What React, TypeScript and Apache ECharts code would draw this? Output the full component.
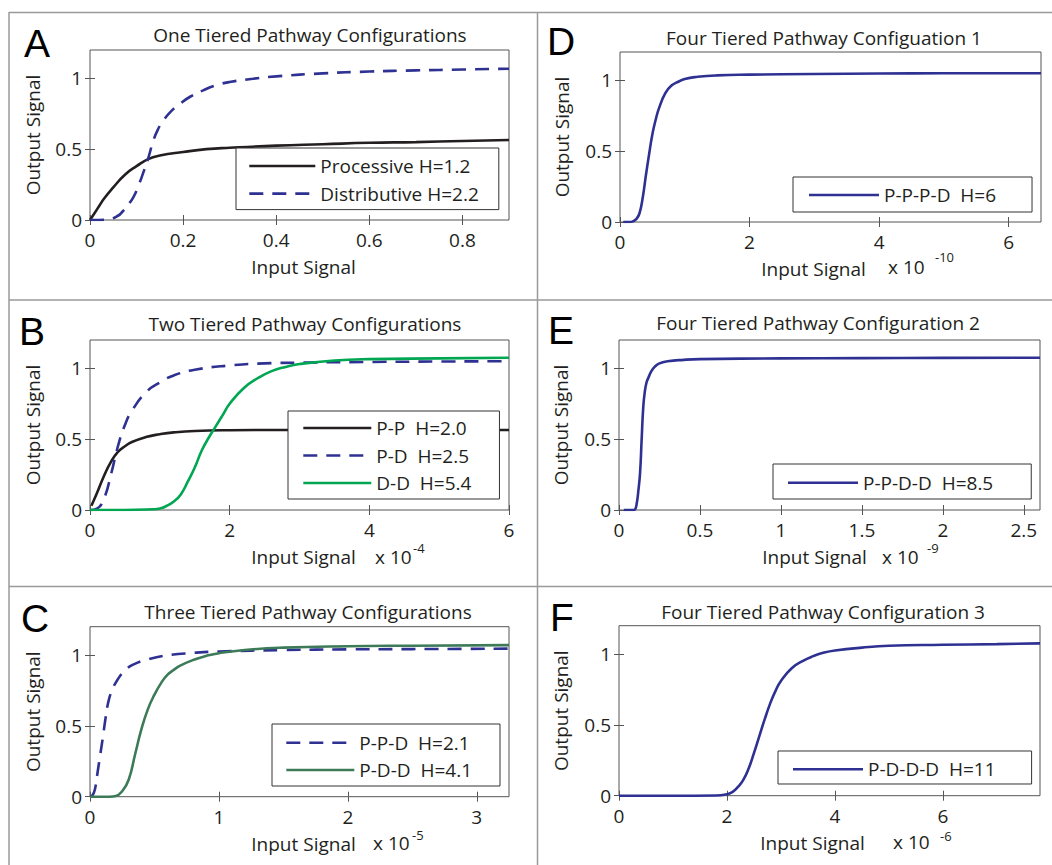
import React, { useEffect, useRef } from "react";
import * as echarts from "echarts";

// ---------------- data ----------------
// A: One tiered
const aProcX = [0, 0.01, 0.02, 0.03, 0.05, 0.075, 0.1, 0.125, 0.15, 0.2, 0.25, 0.3, 0.4, 0.5, 0.6, 0.7, 0.8, 0.9];
const aProcY = [0, 0.05, 0.1, 0.15, 0.23, 0.32, 0.38, 0.43, 0.455, 0.48, 0.5, 0.51, 0.525, 0.535, 0.545, 0.55, 0.558, 0.565];
const aDistX = [0, 0.02, 0.04, 0.06, 0.07, 0.08, 0.093, 0.105, 0.115, 0.125, 0.136, 0.146, 0.157, 0.175, 0.193, 0.215, 0.243, 0.27, 0.3, 0.35, 0.4, 0.5, 0.6, 0.7, 0.8, 0.9];
const aDistY = [0, 0, 0.005, 0.03, 0.06, 0.1, 0.16, 0.25, 0.34, 0.435, 0.56, 0.64, 0.7, 0.77, 0.82, 0.87, 0.915, 0.95, 0.974, 0.997, 1.014, 1.035, 1.048, 1.056, 1.062, 1.068];
// B: Two tiered (x 10^-4)
const bPPX = [0.02, 0.1, 0.2, 0.3, 0.4, 0.5, 0.6, 0.8, 1.0, 1.2, 1.5, 2, 3, 4, 5, 6];
const bPPY = [0.03, 0.12, 0.24, 0.34, 0.41, 0.45, 0.48, 0.515, 0.535, 0.548, 0.558, 0.563, 0.565, 0.565, 0.565, 0.565];
const bPDX = [0, 0.1, 0.2, 0.3, 0.4, 0.5, 0.6, 0.8, 1.0, 1.2, 1.5, 2, 2.5, 3, 4, 5, 6];
const bPDY = [0, 0.01, 0.08, 0.25, 0.45, 0.6, 0.7, 0.83, 0.9, 0.95, 0.99, 1.02, 1.035, 1.04, 1.045, 1.048, 1.05];
const bDDX = [0, 0.5, 0.9, 1.0, 1.1, 1.2, 1.3, 1.4, 1.5, 1.6, 1.7, 1.8, 1.9, 2.0, 2.2, 2.4, 2.6, 2.8, 3.0, 3.5, 4, 5, 6];
const bDDY = [0, 0, 0.005, 0.01, 0.03, 0.06, 0.11, 0.2, 0.3, 0.42, 0.51, 0.59, 0.67, 0.75, 0.86, 0.93, 0.98, 1.01, 1.03, 1.055, 1.065, 1.07, 1.075];
// C: Three tiered (x 10^-5)
const cPPDX = [0, 0.02, 0.04, 0.06, 0.08, 0.1, 0.12, 0.14, 0.17, 0.21, 0.26, 0.33, 0.45, 0.6, 0.8, 1.0, 1.5, 2, 2.5, 3.25];
const cPPDY = [0, 0.01, 0.06, 0.18, 0.3, 0.42, 0.55, 0.66, 0.75, 0.82, 0.88, 0.93, 0.97, 0.998, 1.015, 1.025, 1.035, 1.04, 1.042, 1.045];
const cPDDX = [0, 0.15, 0.2, 0.25, 0.3, 0.35, 0.4, 0.45, 0.5, 0.55, 0.6, 0.65, 0.7, 0.8, 0.9, 1.0, 1.2, 1.5, 2, 2.5, 3.25];
const cPDDY = [0, 0, 0.005, 0.04, 0.12, 0.3, 0.48, 0.62, 0.72, 0.8, 0.86, 0.895, 0.925, 0.965, 0.993, 1.013, 1.036, 1.052, 1.062, 1.066, 1.07];
// D: Four tiered config 1 (x 10^-10)
const dX = [0.05, 0.15, 0.2, 0.25, 0.3, 0.35, 0.4, 0.45, 0.5, 0.55, 0.6, 0.7, 0.8, 0.9, 1.0, 1.2, 1.5, 2, 3, 4, 5, 6.5];
const dY = [0, 0, 0.005, 0.02, 0.06, 0.17, 0.33, 0.48, 0.62, 0.72, 0.8, 0.91, 0.965, 0.99, 1.01, 1.025, 1.035, 1.04, 1.045, 1.048, 1.05, 1.05];
// E: Four tiered config 2 (x 10^-9)
const eX = [0.03, 0.09, 0.1, 0.11, 0.12, 0.13, 0.14, 0.15, 0.16, 0.17, 0.18, 0.2, 0.22, 0.25, 0.3, 0.4, 0.5, 1, 1.5, 2, 2.6];
const eY = [0, 0, 0.005, 0.05, 0.14, 0.26, 0.5, 0.73, 0.84, 0.9, 0.93, 0.98, 1.01, 1.035, 1.05, 1.06, 1.065, 1.07, 1.072, 1.074, 1.075];
// F: Four tiered config 3 (x 10^-6)
const fX = [0, 1, 1.8, 2.0, 2.1, 2.2, 2.3, 2.4, 2.5, 2.6, 2.7, 2.8, 2.9, 3.0, 3.2, 3.4, 3.6, 3.8, 4.0, 4.5, 5, 6, 7, 7.8];
const fY = [0, 0, 0.001, 0.01, 0.025, 0.06, 0.11, 0.19, 0.3, 0.42, 0.54, 0.65, 0.74, 0.81, 0.9, 0.95, 0.985, 1.01, 1.025, 1.045, 1.058, 1.065, 1.07, 1.075];

// tick values
const aTicks = [0, 0.2, 0.4, 0.6, 0.8];
const bTicks = [0, 2, 4, 6];
const cTicks = [0, 1, 2, 3];
const dTicks = [0, 2, 4, 6];
const eTicks = [0, 0.5, 1, 1.5, 2, 2.5];
const fTicks = [0, 2, 4, 6];
const yTicks = [0, 0.5, 1];

const BLACK = "#231f20";
const BLUE = "#2e3192";
const GREEN = "#00a651";
const DKGREEN = "#3d7b58";
const FONT = "'Open Sans', sans-serif";
const AXIS = "#555555";

const zip = (xs: number[], ys: number[]) => xs.map((x, i) => [x, ys[i]]);

type S = { name: string; x: number[]; y: number[]; color: string; dashed?: boolean };
type P = {
  grid: { left: number; top: number; width: number; height: number };
  xMax: number;
  xTicks: number[];
  title: string;
  titleX: number;
  titleY: number;
  letter: string;
  letterX: number;
  letterY: number;
  legend: { left: number; top: number; padding: number[]; itemWidth: number; gap: number };
  series: S[];
  namePad: number[];
  exp?: { x: number; y: number; sx: number; sy: number; sup: string };
};

const panels: P[] = [
  {
    grid: { left: 90, top: 50, width: 419, height: 170 },
    xMax: 0.9, xTicks: aTicks,
    title: "One Tiered Pathway Configurations", titleX: 310, titleY: 35,
    letter: "A", letterX: 24, letterY: 43,
    legend: { left: 236, top: 148, padding: [7, 20, 5, 12], itemWidth: 66, gap: 5.6 },
    series: [
      { name: "Processive H=1.2", x: aProcX, y: aProcY, color: BLACK },
      { name: "Distributive H=2.2", x: aDistX, y: aDistY, color: BLUE, dashed: true },
    ],
    namePad: [0, 0, 0, 8],
  },
  {
    grid: { left: 90, top: 340, width: 419, height: 170 },
    xMax: 6, xTicks: bTicks,
    title: "Two Tiered Pathway Configurations", titleX: 305, titleY: 324,
    letter: "B", letterX: 19, letterY: 331,
    legend: { left: 288, top: 411, padding: [6, 28, 5, 14], itemWidth: 68, gap: 5.5 },
    series: [
      { name: "P-P  H=2.0", x: bPPX, y: bPPY, color: BLACK },
      { name: "P-D  H=2.5", x: bPDX, y: bPDY, color: BLUE, dashed: true },
      { name: "D-D  H=5.4", x: bDDX, y: bDDY, color: GREEN },
    ],
    namePad: [0, 0, 0, 8],
    exp: { x: 375, y: 557, sx: 413, sy: 548, sup: "-4" },
  },
  {
    grid: { left: 90, top: 626.7, width: 419, height: 170 },
    xMax: 3.25, xTicks: cTicks,
    title: "Three Tiered Pathway Configurations", titleX: 308, titleY: 612,
    letter: "C", letterX: 21, letterY: 618,
    legend: { left: 272, top: 724, padding: [7.7, 28, 5, 13], itemWidth: 68, gap: 5.3 },
    series: [
      { name: "P-P-D  H=2.1", x: cPPDX, y: cPPDY, color: BLUE, dashed: true },
      { name: "P-D-D  H=4.1", x: cPDDX, y: cPDDY, color: DKGREEN },
    ],
    namePad: [0, 0, 0, 8],
    exp: { x: 373, y: 843, sx: 412, sy: 835, sup: "-5" },
  },
  {
    grid: { left: 620, top: 52, width: 421, height: 170 },
    xMax: 6.5, xTicks: dTicks,
    title: "Four Tiered Pathway Configuation 1", titleX: 824, titleY: 38,
    letter: "D", letterX: 547, letterY: 41,
    legend: { left: 793, top: 177, padding: [7, 36, 6, 14.7], itemWidth: 70, gap: 5 },
    series: [{ name: "P-P-P-D  H=6", x: dX, y: dY, color: BLUE }],
    namePad: [0, 34, 0, 0],
    exp: { x: 888, y: 267, sx: 935, sy: 257, sup: "-10" },
  },
  {
    grid: { left: 619, top: 340, width: 421, height: 170 },
    xMax: 2.6, xTicks: eTicks,
    title: "Four Tiered Pathway Configuration 2", titleX: 818, titleY: 323,
    letter: "E", letterX: 548, letterY: 330,
    legend: { left: 773, top: 464, padding: [7.7, 38, 5.3, 13.7], itemWidth: 70, gap: 5 },
    series: [{ name: "P-P-D-D  H=8.5", x: eX, y: eY, color: BLUE }],
    namePad: [0, 30, 0, 0],
    exp: { x: 882, y: 557, sx: 927, sy: 548, sup: "-9" },
  },
  {
    grid: { left: 619, top: 625.7, width: 421, height: 170 },
    xMax: 7.8, xTicks: fTicks,
    title: "Four Tiered Pathway Configuration 3", titleX: 823, titleY: 612,
    letter: "F", letterX: 550, letterY: 617,
    legend: { left: 778, top: 751, padding: [7.3, 36, 3.7, 13.7], itemWidth: 70, gap: 5 },
    series: [{ name: "P-D-D-D  H=11", x: fX, y: fY, color: BLUE }],
    namePad: [0, 34, 0, 0],
    exp: { x: 893, y: 842, sx: 940, sy: 836, sup: "-6" },
  },
];

function buildOption() {
  const grid: any[] = [];
  const xAxis: any[] = [];
  const yAxis: any[] = [];
  const series: any[] = [];
  const title: any[] = [];
  const legend: any[] = [];
  const graphic: any[] = [];

  const labelStyle = { fontSize: 19, fontFamily: FONT, color: BLACK, lineHeight: 22 };
  const tickLabelStyle = { fontSize: 19, fontFamily: FONT, color: BLACK, lineHeight: 19 };
  const tick = { show: true, inside: true, length: 5, lineStyle: { color: AXIS, width: 1 } };

  panels.forEach((p, i) => {
    grid.push({ ...p.grid, show: true, borderColor: AXIS, borderWidth: 1, backgroundColor: "transparent", containLabel: false });
    xAxis.push({
      type: "value", gridIndex: i, position: "bottom", min: 0, max: p.xMax,
      axisLine: { show: false }, splitLine: { show: false },
      axisTick: { ...tick, customValues: p.xTicks },
      axisLabel: { ...tickLabelStyle, margin: 10.5, customValues: p.xTicks },
      name: "Input Signal", nameLocation: "middle", nameGap: 36,
      nameTextStyle: { ...labelStyle, padding: p.namePad },
    });
    xAxis.push({
      type: "value", gridIndex: i, position: "top", min: 0, max: p.xMax,
      axisLine: { show: false }, splitLine: { show: false },
      axisTick: { ...tick, customValues: p.xTicks },
      axisLabel: { show: false },
    });
    yAxis.push({
      type: "value", gridIndex: i, position: "left", min: 0, max: 1.2,
      axisLine: { show: false }, splitLine: { show: false },
      axisTick: { ...tick, customValues: yTicks },
      axisLabel: { ...tickLabelStyle, margin: 8, customValues: yTicks },
      name: "Output Signal", nameLocation: "middle", nameGap: i >= 3 ? 47 : 46,
      nameTextStyle: { ...labelStyle },
    });
    yAxis.push({
      type: "value", gridIndex: i, position: "right", min: 0, max: 1.2,
      axisLine: { show: false }, splitLine: { show: false },
      axisTick: { ...tick, customValues: yTicks },
      axisLabel: { show: false },
    });
    p.series.forEach((s) => {
      series.push({
        type: "line", name: s.name, xAxisIndex: 2 * i, yAxisIndex: 2 * i,
        data: zip(s.x, s.y), symbol: "none", smooth: 0.5,
        lineStyle: { color: s.color, width: 2.6, type: s.dashed ? [14, 9] : "solid" },
        itemStyle: { color: s.color }, clip: true,
      });
    });
    title.push({
      text: p.title, left: p.titleX, top: p.titleY - 11, textAlign: "center", padding: 0,
      textStyle: { fontSize: 19, fontWeight: "normal", fontFamily: FONT, color: BLACK, lineHeight: 22 },
    });
    legend.push({
      data: p.series.map((s) => s.name), orient: "vertical",
      left: p.legend.left, top: p.legend.top, padding: p.legend.padding,
      itemWidth: p.legend.itemWidth, itemHeight: 14, itemGap: p.legend.gap,
      borderColor: "#333", borderWidth: 1, backgroundColor: "#ffffff", borderRadius: 0,
      selectedMode: false,
      itemStyle: { opacity: 0, borderWidth: 0 },
      lineStyle: { width: 2.6, opacity: 1 },
      textStyle: { fontSize: 19, fontFamily: FONT, color: BLACK, lineHeight: 22 },
    });
    graphic.push({
      type: "text", x: p.letterX, y: p.letterY,
      style: { text: p.letter, fontSize: 39, fontFamily: "'Liberation Sans', Arial, sans-serif", fill: "#000", verticalAlign: "middle", align: "left" },
    });
    if (p.exp) {
      graphic.push({
        type: "text", x: p.exp.x, y: p.exp.y,
        style: { text: "x 10", fontSize: 19, fontFamily: FONT, fill: BLACK, verticalAlign: "middle", align: "left" },
      });
      graphic.push({
        type: "text", x: p.exp.sx, y: p.exp.sy,
        style: { text: p.exp.sup, fontSize: 13, lineHeight: 13, fontFamily: FONT, fill: BLACK, verticalAlign: "middle", align: "left" },
      });
    }
  });

  const frame = { stroke: "#9a9a9a", lineWidth: 1.5 };
  const lines = [
    [9, 12.5, 1052, 12.5],
    [9, 12, 9, 865],
    [537.5, 12, 537.5, 865],
    [9, 300, 1052, 300],
    [9, 586.5, 1052, 586.5],
  ];
  lines.forEach(([x1, y1, x2, y2]) => {
    graphic.push({ type: "line", shape: { x1, y1, x2, y2 }, style: frame, silent: true });
  });

  return {
    animation: false,
    backgroundColor: "#ffffff",
    textStyle: { fontFamily: FONT },
    grid, xAxis, yAxis, series, title, legend, graphic,
  };
}

export default function App() {
  const ref = useRef<HTMLDivElement>(null);
  useEffect(() => {
    document.body.style.margin = "0";
    if (!ref.current) return;
    const chart = echarts.init(ref.current, null, { renderer: "svg" });
    chart.setOption(buildOption() as any);
    return () => chart.dispose();
  }, []);
  return <div ref={ref} style={{ width: 1052, height: 865 }} />;
}
